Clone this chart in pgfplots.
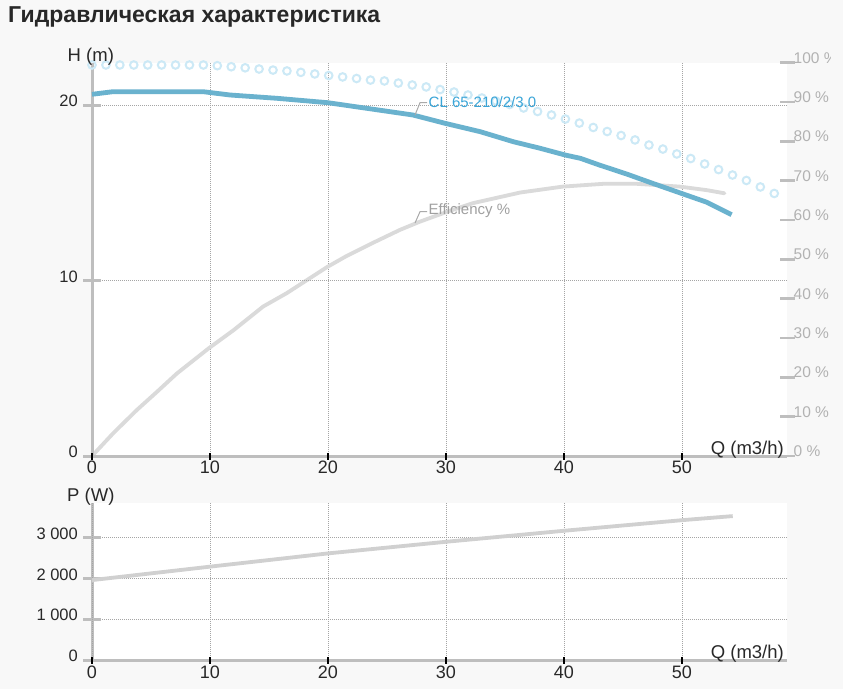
\documentclass[border=0pt]{standalone}
\usepackage{fontspec}
\setmainfont{Liberation Sans}
\usepackage{pgfplots}
\pgfplotsset{compat=1.18}
\usepackage{pgfplotstable}
\definecolor{bgc}{RGB}{248,248,248}
\definecolor{axgray}{RGB}{190,190,190}
\definecolor{gridc}{RGB}{165,165,165}
\definecolor{hblue}{RGB}{106,178,206}
\definecolor{lblue}{RGB}{58,165,216}
\definecolor{circ}{RGB}{204,233,246}
\definecolor{effc}{RGB}{218,218,218}
\definecolor{powc}{RGB}{208,208,208}
\definecolor{txt}{RGB}{40,40,40}
\definecolor{pctc}{RGB}{178,178,178}
\definecolor{leadc}{RGB}{170,170,170}

\pgfplotstableread{
Q H
0 20.61
1.8 20.76
9.4 20.76
11.7 20.57
15.7 20.38
20.0 20.13
23.3 19.81
27.2 19.43
29.9 18.96
32.9 18.48
35.7 17.91
38.0 17.53
40.1 17.15
41.4 16.96
43.0 16.58
45.3 16.07
47.5 15.54
49.8 15.00
52.1 14.46
54.2 13.75
}\headtab

\pgfplotstableread{
Q E
0 0
1.8 5.8
3.8 11.7
5.5 16.3
7.2 21.0
9.9 27.4
12.0 32.0
14.5 38.0
16.5 41.4
18.2 44.7
19.9 48.0
21.6 50.9
23.6 53.9
26.1 57.5
27.8 59.6
30.1 62.1
32.3 64.3
36.3 67.0
39.9 68.5
43.3 69.2
46.2 69.2
49.8 68.5
52.1 67.6
53.6 66.8
}\efftab

\pgfplotstableread{
Q P
0 1960
10 2290
20 2615
30 2900
40 3170
50 3430
54.3 3530
}\powtab

\pgfplotstableread{
Q C
0 22.28
1.18 22.28
2.36 22.28
3.54 22.28
4.72 22.28
5.90 22.28
7.08 22.28
8.26 22.28
9.44 22.28
10.62 22.24
11.80 22.18
12.98 22.12
14.16 22.05
15.34 21.99
16.52 21.94
17.70 21.86
18.88 21.77
20.06 21.68
21.24 21.60
22.42 21.51
23.60 21.42
24.78 21.37
25.96 21.25
27.14 21.14
28.32 21.03
29.50 20.88
30.68 20.74
31.86 20.57
33.04 20.40
34.22 20.23
35.40 20.03
36.58 19.83
37.76 19.63
38.94 19.43
40.12 19.20
41.30 18.97
42.48 18.72
43.66 18.49
44.84 18.26
46.02 18.01
47.20 17.72
48.38 17.49
49.56 17.21
50.74 16.95
51.92 16.64
53.10 16.32
54.28 16.01
55.46 15.70
56.64 15.33
57.82 14.96
}\circtab

\pgfplotsset{
  base/.style={
    scale only axis, width=695pt,
    xmin=0, xmax=58.9,
    tick align=center,
    /pgf/number format/assume math mode=true,
    grid style={gridc, line width=0.7pt, dash pattern=on 0.9pt off 1.1pt},
  },
  hstyle/.style={
    base,
    axis x line*=bottom, axis y line*=left,
    axis line style={-, draw=axgray, line width=3pt},
    major tick length=17pt,
    xtick=\empty,
    extra x ticks={0,10,20,30,40,50},
    extra x tick style={major tick length=7pt,
      tick style={draw=black, line width=2.5pt},
      xticklabel style={font=\fontsize{18}{18}\selectfont, text=txt, inner sep=0pt, anchor=north, yshift=-1pt}},
    ytick style={draw=axgray, line width=3pt},
    yticklabel style={font=\fontsize{16.5}{16.5}\selectfont, text=txt, inner sep=0pt, anchor=east, yshift=4pt, xshift=-5.5pt},
  },
}

\begin{document}
\begin{tikzpicture}
\useasboundingbox (0pt,0pt) rectangle (843pt,-689pt);
\fill[bgc] (0pt,0pt) rectangle (843pt,-689pt);
\clip (0pt,0pt) rectangle (830pt,-689pt);

\node[anchor=base west, inner sep=0pt, text=txt, font=\fontsize{23}{23}\selectfont\bfseries] at (8pt,-22pt) {Гидравлическая характеристика};

% ---------- top chart: percentage axis (right) ----------
\begin{axis}[base, at={(92pt,-456pt)}, anchor=south west, height=393.3pt,
  ymin=0, ymax=100,
  axis background/.style={fill=white},
  axis line style={draw=none},
  major tick length=15pt,
  xtick={0,10,20,30,40,50}, xmajorgrids, xticklabels={}, xtick style={draw=none},
  ytick={0,10,...,100}, ytick pos=right, yticklabel pos=right,
  ytick style={draw=axgray, line width=2.5pt},
  yticklabel={\pgfmathprintnumber{\tick}\ \%},
  yticklabel style={font=\fontsize{15.5}{15.5}\selectfont, text=pctc, inner sep=0pt, anchor=west, yshift=5pt, xshift=-1pt},
]
\addplot[effc, line width=3.8pt, line join=round, line cap=round] table[x=Q, y=E] {\efftab};
\end{axis}

% ---------- top chart: head axis (left) ----------
\begin{axis}[hstyle, at={(92pt,-456pt)}, anchor=south west, height=393.3pt,
  ymin=0, ymax=22.41, clip=false,
  ytick={0,10,20}, ymajorgrids,
]
\addplot[only marks, mark=o, mark size=3.8pt, mark options={draw=circ, line width=2pt}] table[x=Q, y=C] {\circtab};
\addplot[hblue, line width=4.8pt, line join=round] table[x=Q, y=H] {\headtab};
\end{axis}

% annotations
\draw[leadc, line width=1pt] (415pt,-115pt) -- (420pt,-102.7pt) -- (427pt,-102.7pt);
\node[anchor=west, inner sep=0pt, text=lblue, font=\fontsize{15}{15}\selectfont] at (428.5pt,-101.7pt) {CL 65-210/2/3.0};
\draw[leadc, line width=1pt] (415pt,-223pt) -- (420pt,-211.7pt) -- (427pt,-211.7pt);
\node[anchor=west, inner sep=0pt, text=pctc!90!black, font=\fontsize{15}{15}\selectfont] at (428.5pt,-210.7pt) {Efficiency \%};

\node[anchor=base west, inner sep=0pt, text=txt, font=\fontsize{18.5}{18.5}\selectfont] at (67.5pt,-61.7pt) {H (m)};
\node[anchor=base east, inner sep=0pt, text=txt, font=\fontsize{18.5}{18.5}\selectfont] at (784pt,-454.5pt) {Q (m3/h)};

% ---------- bottom chart: power ----------
\begin{axis}[hstyle, at={(92pt,-660pt)}, anchor=south west, height=157pt,
  ymin=0, ymax=3851,
  axis background/.style={fill=white},
  ytick={0,1000,2000,3000}, yticklabels={0,{1 000},{2 000},{3 000}},
  ymajorgrids,
  extra x tick style={major tick length=7pt, grid=major,
      tick style={draw=black, line width=2.5pt},
      xticklabel style={font=\fontsize{18}{18}\selectfont, text=txt, inner sep=0pt, anchor=north, yshift=-1pt}},
]
\addplot[powc, line width=3.8pt, line join=round] table[x=Q, y=P] {\powtab};
\end{axis}

\node[anchor=base west, inner sep=0pt, text=txt, font=\fontsize{18.5}{18.5}\selectfont] at (67pt,-501.7pt) {P (W)};
\node[anchor=base east, inner sep=0pt, text=txt, font=\fontsize{18.5}{18.5}\selectfont] at (784pt,-658pt) {Q (m3/h)};
\end{tikzpicture}
\end{document}
